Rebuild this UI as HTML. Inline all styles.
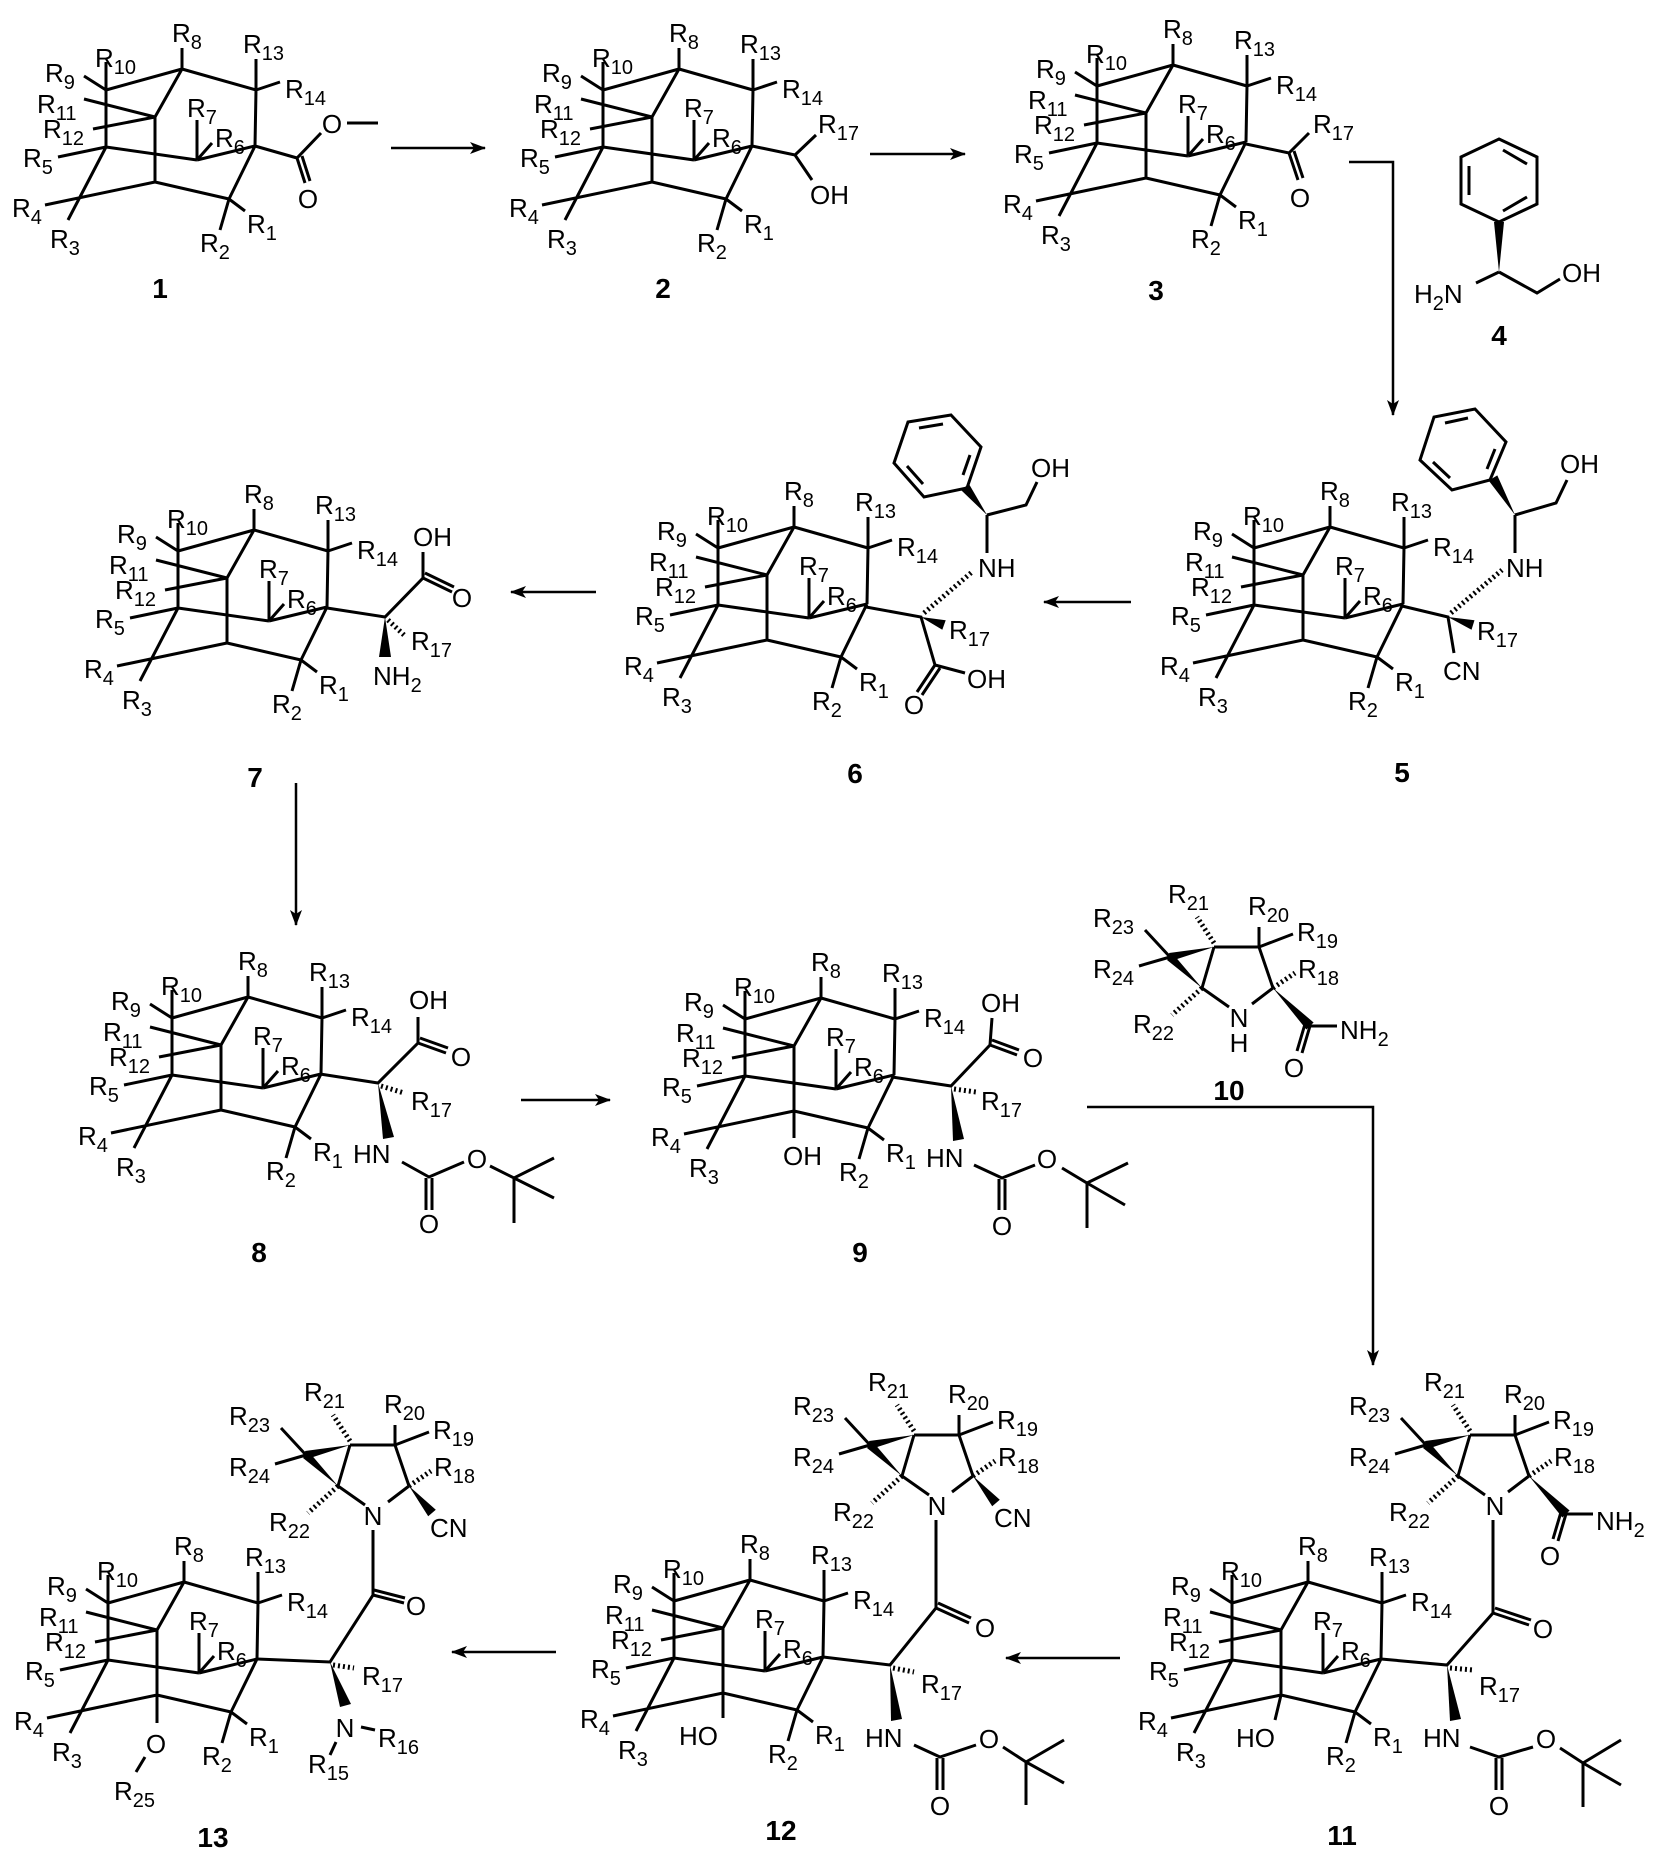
<!DOCTYPE html>
<html><head><meta charset="utf-8"><style>
html,body{margin:0;padding:0;background:#fff;}
svg{display:block;}
text{font-family:"Liberation Sans",Arial,sans-serif;font-size:26px;fill:#000;}
.s{font-size:20px;}
.b{font-weight:bold;font-size:28px;}
</style></head><body>
<svg width="1663" height="1857" viewBox="0 0 1663 1857" xmlns="http://www.w3.org/2000/svg">
<defs>
<marker id="ah" markerWidth="16" markerHeight="12" refX="15" refY="6" orient="auto" markerUnits="userSpaceOnUse"><path d="M0,0 L16,6 L0,12 L4,6 Z" fill="#000"/></marker>
<g id="cg" stroke="#000" stroke-width="3" fill="none">
<path d="M0,0V-21 M0,0L-76,21 M0,0L74,21 M0,0L-27,48 M-76,-7V78 M-98,7L-76,21 M74,-10V21 M74,21L98,13 M-98,30L-27,48 M-89,60L-27,48 M74,21L73,77 M-76,78L15,91 M15,91L73,77 M15,51V91 M15,91L30,74 M-27,48V113 M-27,113L47,130 M73,77L47,130L38,161 M47,130L63,142 M-27,113L-137,136 M-76,78L-114,151 M-76,78L-124,88"/>
</g>
<g id="bc">
<path d="M0,0H45 M0,0L-12,41 M-44,10L-69,-17 M-44,10L-75,19 M45,0V-20 M45,0L79,-13 M45,0L59,41 M-12,41L15,60 M59,41L38,57" stroke="#000" stroke-width="3" fill="none"/>
<polygon points="0,0 -43,14 -45,6" fill="#000"/>
<polygon points="-12,41 -41,7 -47,13" fill="#000"/>
<path d="M0,-4L-17,-30 M59,41L81,26 M-12,41L-42,68" stroke="#000" stroke-width="5" stroke-dasharray="2,3" fill="none"/>
</g>
</defs>

<use href="#cg" x="182" y="69"/>
<use href="#cg" x="679" y="69"/>
<use href="#cg" x="1173" y="65"/>
<use href="#cg" x="1330" y="527"/>
<use href="#cg" x="794" y="527"/>
<use href="#cg" x="254" y="530"/>
<use href="#cg" x="248" y="997"/>
<use href="#cg" x="821" y="998"/>
<use href="#cg" x="1308" y="1582"/>
<use href="#cg" x="750" y="1580"/>
<use href="#cg" x="184" y="1582"/>

<g transform="translate(182,69)">
<text x="-10" y="-27">R<tspan class="s" dy="7">8</tspan></text><text x="-87" y="-2">R<tspan class="s" dy="7">10</tspan></text><text x="-137" y="13">R<tspan class="s" dy="7">9</tspan></text><text x="61" y="-16">R<tspan class="s" dy="7">13</tspan></text><text x="103" y="29">R<tspan class="s" dy="7">14</tspan></text><text x="-145" y="44">R<tspan class="s" dy="7">11</tspan></text><text x="5" y="48">R<tspan class="s" dy="7">7</tspan></text><text x="33" y="78">R<tspan class="s" dy="7">6</tspan></text><text x="-139" y="69">R<tspan class="s" dy="7">12</tspan></text><text x="-159" y="98">R<tspan class="s" dy="7">5</tspan></text><text x="-170" y="148">R<tspan class="s" dy="7">4</tspan></text><text x="-132" y="179">R<tspan class="s" dy="7">3</tspan></text><text x="18" y="183">R<tspan class="s" dy="7">2</tspan></text><text x="65" y="164">R<tspan class="s" dy="7">1</tspan></text>
</g>
<g transform="translate(679,69)">
<text x="-10" y="-27">R<tspan class="s" dy="7">8</tspan></text><text x="-87" y="-2">R<tspan class="s" dy="7">10</tspan></text><text x="-137" y="13">R<tspan class="s" dy="7">9</tspan></text><text x="61" y="-16">R<tspan class="s" dy="7">13</tspan></text><text x="103" y="29">R<tspan class="s" dy="7">14</tspan></text><text x="-145" y="44">R<tspan class="s" dy="7">11</tspan></text><text x="5" y="48">R<tspan class="s" dy="7">7</tspan></text><text x="33" y="78">R<tspan class="s" dy="7">6</tspan></text><text x="-139" y="69">R<tspan class="s" dy="7">12</tspan></text><text x="-159" y="98">R<tspan class="s" dy="7">5</tspan></text><text x="-170" y="148">R<tspan class="s" dy="7">4</tspan></text><text x="-132" y="179">R<tspan class="s" dy="7">3</tspan></text><text x="18" y="183">R<tspan class="s" dy="7">2</tspan></text><text x="65" y="164">R<tspan class="s" dy="7">1</tspan></text>
</g>
<g transform="translate(1173,65)">
<text x="-10" y="-27">R<tspan class="s" dy="7">8</tspan></text><text x="-87" y="-2">R<tspan class="s" dy="7">10</tspan></text><text x="-137" y="13">R<tspan class="s" dy="7">9</tspan></text><text x="61" y="-16">R<tspan class="s" dy="7">13</tspan></text><text x="103" y="29">R<tspan class="s" dy="7">14</tspan></text><text x="-145" y="44">R<tspan class="s" dy="7">11</tspan></text><text x="5" y="48">R<tspan class="s" dy="7">7</tspan></text><text x="33" y="78">R<tspan class="s" dy="7">6</tspan></text><text x="-139" y="69">R<tspan class="s" dy="7">12</tspan></text><text x="-159" y="98">R<tspan class="s" dy="7">5</tspan></text><text x="-170" y="148">R<tspan class="s" dy="7">4</tspan></text><text x="-132" y="179">R<tspan class="s" dy="7">3</tspan></text><text x="18" y="183">R<tspan class="s" dy="7">2</tspan></text><text x="65" y="164">R<tspan class="s" dy="7">1</tspan></text>
</g>
<g transform="translate(1330,527)">
<text x="-10" y="-27">R<tspan class="s" dy="7">8</tspan></text><text x="-87" y="-2">R<tspan class="s" dy="7">10</tspan></text><text x="-137" y="13">R<tspan class="s" dy="7">9</tspan></text><text x="61" y="-16">R<tspan class="s" dy="7">13</tspan></text><text x="103" y="29">R<tspan class="s" dy="7">14</tspan></text><text x="-145" y="44">R<tspan class="s" dy="7">11</tspan></text><text x="5" y="48">R<tspan class="s" dy="7">7</tspan></text><text x="33" y="78">R<tspan class="s" dy="7">6</tspan></text><text x="-139" y="69">R<tspan class="s" dy="7">12</tspan></text><text x="-159" y="98">R<tspan class="s" dy="7">5</tspan></text><text x="-170" y="148">R<tspan class="s" dy="7">4</tspan></text><text x="-132" y="179">R<tspan class="s" dy="7">3</tspan></text><text x="18" y="183">R<tspan class="s" dy="7">2</tspan></text><text x="65" y="164">R<tspan class="s" dy="7">1</tspan></text>
</g>
<g transform="translate(794,527)">
<text x="-10" y="-27">R<tspan class="s" dy="7">8</tspan></text><text x="-87" y="-2">R<tspan class="s" dy="7">10</tspan></text><text x="-137" y="13">R<tspan class="s" dy="7">9</tspan></text><text x="61" y="-16">R<tspan class="s" dy="7">13</tspan></text><text x="103" y="29">R<tspan class="s" dy="7">14</tspan></text><text x="-145" y="44">R<tspan class="s" dy="7">11</tspan></text><text x="5" y="48">R<tspan class="s" dy="7">7</tspan></text><text x="33" y="78">R<tspan class="s" dy="7">6</tspan></text><text x="-139" y="69">R<tspan class="s" dy="7">12</tspan></text><text x="-159" y="98">R<tspan class="s" dy="7">5</tspan></text><text x="-170" y="148">R<tspan class="s" dy="7">4</tspan></text><text x="-132" y="179">R<tspan class="s" dy="7">3</tspan></text><text x="18" y="183">R<tspan class="s" dy="7">2</tspan></text><text x="65" y="164">R<tspan class="s" dy="7">1</tspan></text>
</g>
<g transform="translate(254,530)">
<text x="-10" y="-27">R<tspan class="s" dy="7">8</tspan></text><text x="-87" y="-2">R<tspan class="s" dy="7">10</tspan></text><text x="-137" y="13">R<tspan class="s" dy="7">9</tspan></text><text x="61" y="-16">R<tspan class="s" dy="7">13</tspan></text><text x="103" y="29">R<tspan class="s" dy="7">14</tspan></text><text x="-145" y="44">R<tspan class="s" dy="7">11</tspan></text><text x="5" y="48">R<tspan class="s" dy="7">7</tspan></text><text x="33" y="78">R<tspan class="s" dy="7">6</tspan></text><text x="-139" y="69">R<tspan class="s" dy="7">12</tspan></text><text x="-159" y="98">R<tspan class="s" dy="7">5</tspan></text><text x="-170" y="148">R<tspan class="s" dy="7">4</tspan></text><text x="-132" y="179">R<tspan class="s" dy="7">3</tspan></text><text x="18" y="183">R<tspan class="s" dy="7">2</tspan></text><text x="65" y="164">R<tspan class="s" dy="7">1</tspan></text>
</g>
<g transform="translate(248,997)">
<text x="-10" y="-27">R<tspan class="s" dy="7">8</tspan></text><text x="-87" y="-2">R<tspan class="s" dy="7">10</tspan></text><text x="-137" y="13">R<tspan class="s" dy="7">9</tspan></text><text x="61" y="-16">R<tspan class="s" dy="7">13</tspan></text><text x="103" y="29">R<tspan class="s" dy="7">14</tspan></text><text x="-145" y="44">R<tspan class="s" dy="7">11</tspan></text><text x="5" y="48">R<tspan class="s" dy="7">7</tspan></text><text x="33" y="78">R<tspan class="s" dy="7">6</tspan></text><text x="-139" y="69">R<tspan class="s" dy="7">12</tspan></text><text x="-159" y="98">R<tspan class="s" dy="7">5</tspan></text><text x="-170" y="148">R<tspan class="s" dy="7">4</tspan></text><text x="-132" y="179">R<tspan class="s" dy="7">3</tspan></text><text x="18" y="183">R<tspan class="s" dy="7">2</tspan></text><text x="65" y="164">R<tspan class="s" dy="7">1</tspan></text>
</g>
<g transform="translate(821,998)">
<text x="-10" y="-27">R<tspan class="s" dy="7">8</tspan></text><text x="-87" y="-2">R<tspan class="s" dy="7">10</tspan></text><text x="-137" y="13">R<tspan class="s" dy="7">9</tspan></text><text x="61" y="-16">R<tspan class="s" dy="7">13</tspan></text><text x="103" y="29">R<tspan class="s" dy="7">14</tspan></text><text x="-145" y="44">R<tspan class="s" dy="7">11</tspan></text><text x="5" y="48">R<tspan class="s" dy="7">7</tspan></text><text x="33" y="78">R<tspan class="s" dy="7">6</tspan></text><text x="-139" y="69">R<tspan class="s" dy="7">12</tspan></text><text x="-159" y="98">R<tspan class="s" dy="7">5</tspan></text><text x="-170" y="148">R<tspan class="s" dy="7">4</tspan></text><text x="-132" y="179">R<tspan class="s" dy="7">3</tspan></text><text x="18" y="183">R<tspan class="s" dy="7">2</tspan></text><text x="65" y="164">R<tspan class="s" dy="7">1</tspan></text>
</g>
<g transform="translate(1308,1582)">
<text x="-10" y="-27">R<tspan class="s" dy="7">8</tspan></text><text x="-87" y="-2">R<tspan class="s" dy="7">10</tspan></text><text x="-137" y="13">R<tspan class="s" dy="7">9</tspan></text><text x="61" y="-16">R<tspan class="s" dy="7">13</tspan></text><text x="103" y="29">R<tspan class="s" dy="7">14</tspan></text><text x="-145" y="44">R<tspan class="s" dy="7">11</tspan></text><text x="5" y="48">R<tspan class="s" dy="7">7</tspan></text><text x="33" y="78">R<tspan class="s" dy="7">6</tspan></text><text x="-139" y="69">R<tspan class="s" dy="7">12</tspan></text><text x="-159" y="98">R<tspan class="s" dy="7">5</tspan></text><text x="-170" y="148">R<tspan class="s" dy="7">4</tspan></text><text x="-132" y="179">R<tspan class="s" dy="7">3</tspan></text><text x="18" y="183">R<tspan class="s" dy="7">2</tspan></text><text x="65" y="164">R<tspan class="s" dy="7">1</tspan></text>
</g>
<g transform="translate(750,1580)">
<text x="-10" y="-27">R<tspan class="s" dy="7">8</tspan></text><text x="-87" y="-2">R<tspan class="s" dy="7">10</tspan></text><text x="-137" y="13">R<tspan class="s" dy="7">9</tspan></text><text x="61" y="-16">R<tspan class="s" dy="7">13</tspan></text><text x="103" y="29">R<tspan class="s" dy="7">14</tspan></text><text x="-145" y="44">R<tspan class="s" dy="7">11</tspan></text><text x="5" y="48">R<tspan class="s" dy="7">7</tspan></text><text x="33" y="78">R<tspan class="s" dy="7">6</tspan></text><text x="-139" y="69">R<tspan class="s" dy="7">12</tspan></text><text x="-159" y="98">R<tspan class="s" dy="7">5</tspan></text><text x="-170" y="148">R<tspan class="s" dy="7">4</tspan></text><text x="-132" y="179">R<tspan class="s" dy="7">3</tspan></text><text x="18" y="183">R<tspan class="s" dy="7">2</tspan></text><text x="65" y="164">R<tspan class="s" dy="7">1</tspan></text>
</g>
<g transform="translate(184,1582)">
<text x="-10" y="-27">R<tspan class="s" dy="7">8</tspan></text><text x="-87" y="-2">R<tspan class="s" dy="7">10</tspan></text><text x="-137" y="13">R<tspan class="s" dy="7">9</tspan></text><text x="61" y="-16">R<tspan class="s" dy="7">13</tspan></text><text x="103" y="29">R<tspan class="s" dy="7">14</tspan></text><text x="-145" y="44">R<tspan class="s" dy="7">11</tspan></text><text x="5" y="48">R<tspan class="s" dy="7">7</tspan></text><text x="33" y="78">R<tspan class="s" dy="7">6</tspan></text><text x="-139" y="69">R<tspan class="s" dy="7">12</tspan></text><text x="-159" y="98">R<tspan class="s" dy="7">5</tspan></text><text x="-170" y="148">R<tspan class="s" dy="7">4</tspan></text><text x="-132" y="179">R<tspan class="s" dy="7">3</tspan></text><text x="18" y="183">R<tspan class="s" dy="7">2</tspan></text><text x="65" y="164">R<tspan class="s" dy="7">1</tspan></text>
</g>

<use href="#bc" x="1214" y="947"/>
<use href="#bc" x="1470" y="1435"/>
<use href="#bc" x="914" y="1435"/>
<use href="#bc" x="350" y="1445"/>

<g transform="translate(1214,947)">
<text x="-121" y="-20">R<tspan class="s" dy="7">23</tspan></text><text x="-121" y="31">R<tspan class="s" dy="7">24</tspan></text><text x="-46" y="-44">R<tspan class="s" dy="7">21</tspan></text><text x="34" y="-32">R<tspan class="s" dy="7">20</tspan></text><text x="83" y="-6">R<tspan class="s" dy="7">19</tspan></text><text x="84" y="31">R<tspan class="s" dy="7">18</tspan></text><text x="-81" y="86">R<tspan class="s" dy="7">22</tspan></text>
<text x="25" y="80" text-anchor="middle">N</text><text x="25" y="105" text-anchor="middle">H</text>
<polygon points="59,41 92.4,82.5 99.6,75.5" fill="#000"/>
<path d="M96,79H123 M96,79L88,106 M91,77L83,104" stroke="#000" stroke-width="3" fill="none"/>
<text x="126" y="92">NH<tspan class="s" dy="7">2</tspan></text>
<text x="80" y="130" text-anchor="middle">O</text>
</g>
<g transform="translate(1470,1435)">
<text x="-121" y="-20">R<tspan class="s" dy="7">23</tspan></text><text x="-121" y="31">R<tspan class="s" dy="7">24</tspan></text><text x="-46" y="-44">R<tspan class="s" dy="7">21</tspan></text><text x="34" y="-32">R<tspan class="s" dy="7">20</tspan></text><text x="83" y="-6">R<tspan class="s" dy="7">19</tspan></text><text x="84" y="31">R<tspan class="s" dy="7">18</tspan></text><text x="-81" y="86">R<tspan class="s" dy="7">22</tspan></text>
<text x="25" y="80" text-anchor="middle">N</text>
<polygon points="59,41 92.4,82.5 99.6,75.5" fill="#000"/>
<path d="M96,79H123 M96,79L88,106 M91,77L83,104" stroke="#000" stroke-width="3" fill="none"/>
<text x="126" y="95">NH<tspan class="s" dy="7">2</tspan></text>
<text x="80" y="130" text-anchor="middle">O</text>
</g>
<g transform="translate(914,1435)">
<text x="-121" y="-20">R<tspan class="s" dy="7">23</tspan></text><text x="-121" y="31">R<tspan class="s" dy="7">24</tspan></text><text x="-46" y="-44">R<tspan class="s" dy="7">21</tspan></text><text x="34" y="-32">R<tspan class="s" dy="7">20</tspan></text><text x="83" y="-6">R<tspan class="s" dy="7">19</tspan></text><text x="84" y="31">R<tspan class="s" dy="7">18</tspan></text><text x="-81" y="86">R<tspan class="s" dy="7">22</tspan></text>
<text x="23" y="80" text-anchor="middle">N</text>
<polygon points="59,41 78.2,71.2 85.8,64.8" fill="#000"/>
<text x="80" y="92">CN</text>
</g>
<g transform="translate(350,1445)">
<text x="-121" y="-20">R<tspan class="s" dy="7">23</tspan></text><text x="-121" y="31">R<tspan class="s" dy="7">24</tspan></text><text x="-46" y="-44">R<tspan class="s" dy="7">21</tspan></text><text x="34" y="-32">R<tspan class="s" dy="7">20</tspan></text><text x="83" y="-6">R<tspan class="s" dy="7">19</tspan></text><text x="84" y="31">R<tspan class="s" dy="7">18</tspan></text><text x="-81" y="86">R<tspan class="s" dy="7">22</tspan></text>
<text x="23" y="80" text-anchor="middle">N</text>
<polygon points="59,41 78.2,71.2 85.8,64.8" fill="#000"/>
<text x="80" y="92">CN</text>
</g>

<g stroke="#000" stroke-width="3" fill="none">
<path d="M255,146L297,158L321,133 M297,158L305,183 M302,156L310,181 M347,123H378"/>
<path d="M752,146L795,155L816,135 M795,155L812,180"/>
<path d="M1246,144L1289,153L1309,133 M1289,153L1298,180 M1294,151L1303,178"/>
<path d="M1499,139L1537,157V204L1499,222L1461,204V157Z M1503,150L1527,164 M1527,197L1503,211 M1469,166V195 M1499,272L1476,283 M1499,272L1537,293L1560,279"/>
<path d="M1402,606L1448,617L1454,653 M1515,553V515 M1515,515L1556,503L1567,480 M1475,409L1506,442L1490,480L1452,490L1420,460L1434,417Z M1445,423L1468,418 M1495,449L1487,469 M1450,478L1433,462"/>
<path d="M866,607L921,617L935,665L965,673 M935,665L917,692 M940,668L922,695 M987,553V515 M987,515L1026,505L1037,482 M951,415L981,447L967,488L924,497L894,463L908,422Z M919,428L943,424 M970,455L963,475 M923,484L907,466"/>
<path d="M327,608L385,617L423,578V552 M423,578L452,592 M425,573L454,587"/>
<path d="M320,1074L378,1083L418,1043V1017 M418,1043L446,1053 M420,1038L448,1048 M402,1162L429,1177L464,1162 M490,1166L514,1178L554,1158 M514,1178L554,1198 M514,1178V1223 M426,1178V1210 M432,1178V1210"/>
<path d="M794,1110V1138 M892,1077L951,1086L990,1045L992,1018 M990,1045L1017,1055 M992,1040L1019,1050 M974,1165L1002,1178L1035,1165 M1062,1168L1087,1183L1128,1163 M1087,1183L1125,1205 M1087,1183V1228 M999,1179V1210 M1005,1179V1210"/>
<path d="M1281,1695L1275,1720 M1381,1659L1447,1665L1493,1613V1520 M1493,1613L1529,1625 M1495,1608L1531,1620 M1470,1747L1499,1757L1533,1747 M1560,1748L1583,1763L1621,1740 M1583,1763L1621,1785 M1583,1763V1807 M1496,1758V1790 M1502,1758V1790"/>
<path d="M723,1693V1718 M823,1657L890,1665L936,1608V1520 M936,1608L969,1623 M938,1603L971,1618 M914,1745L940,1757L976,1745 M1003,1747L1026,1762L1064,1740 M1026,1762L1064,1783 M1026,1762V1805 M937,1758V1790 M943,1758V1790"/>
<path d="M157,1695V1723 M145,1757L136,1772 M257,1659L330,1662L373,1595V1530 M373,1595L404,1603 M374,1590L405,1598 M361,1727L375,1730 M336,1742L330,1755"/>
</g>
<g stroke="#000" stroke-width="5" stroke-dasharray="2,3" fill="none">
<path d="M1451,613L1502,570 M924,613L972,572 M388,620L404,635 M381,1086L404,1093 M954,1089L976,1092 M1450,1668L1473,1670 M893,1668L914,1672 M333,1665L354,1668"/>
</g>
<g fill="#000">
<polygon points="1448,617 1474.5,620.2 1471.5,629.8"/>
<polygon points="1515,515 1497.3,475.4 1488.7,480.6"/>
<polygon points="921,617 945.7,620.3 942.3,629.7"/>
<polygon points="987,515 968.9,483.9 961.1,490.1"/>
<polygon points="1499,222 1494,222 1499,272 1504,222"/>
<polygon points="385,617 379,657 391,657"/>
<polygon points="378,1083 383,1139 394,1137"/>
<polygon points="951,1086 953,1141 964,1139"/>
<polygon points="1447,1665 1450,1721 1461,1719"/>
<polygon points="890,1665 891,1721 902,1719"/>
<polygon points="330,1662 340,1707 351,1704"/>
</g>

<text x="332" y="133" text-anchor="middle">O</text>
<text x="308" y="208" text-anchor="middle">O</text>
<text x="818" y="133">R<tspan class="s" dy="7">17</tspan></text>
<text x="810" y="204">OH</text>
<text x="1313" y="133">R<tspan class="s" dy="7">17</tspan></text>
<text x="1300" y="207" text-anchor="middle">O</text>
<text x="1414" y="303">H<tspan class="s" dy="7">2</tspan><tspan dy="-7">N</tspan></text>
<text x="1562" y="282">OH</text>
<text x="1443" y="680">CN</text>
<text x="1477" y="640">R<tspan class="s" dy="7">17</tspan></text>
<text x="1506" y="577">NH</text>
<text x="1560" y="473">OH</text>
<text x="949" y="639">R<tspan class="s" dy="7">17</tspan></text>
<text x="978" y="577">NH</text>
<text x="1031" y="477">OH</text>
<text x="967" y="688">OH</text>
<text x="914" y="714" text-anchor="middle">O</text>
<text x="413" y="546">OH</text>
<text x="462" y="607" text-anchor="middle">O</text>
<text x="411" y="650">R<tspan class="s" dy="7">17</tspan></text>
<text x="373" y="685">NH<tspan class="s" dy="7">2</tspan></text>
<text x="409" y="1009">OH</text>
<text x="461" y="1066" text-anchor="middle">O</text>
<text x="411" y="1110">R<tspan class="s" dy="7">17</tspan></text>
<text x="353" y="1163">HN</text>
<text x="477" y="1168" text-anchor="middle">O</text>
<text x="429" y="1233" text-anchor="middle">O</text>
<text x="783" y="1165">OH</text>
<text x="981" y="1012">OH</text>
<text x="1033" y="1067" text-anchor="middle">O</text>
<text x="981" y="1110">R<tspan class="s" dy="7">17</tspan></text>
<text x="926" y="1167">HN</text>
<text x="1047" y="1168" text-anchor="middle">O</text>
<text x="1002" y="1235" text-anchor="middle">O</text>
<text x="1236" y="1747">HO</text>
<text x="1543" y="1638" text-anchor="middle">O</text>
<text x="1479" y="1695">R<tspan class="s" dy="7">17</tspan></text>
<text x="1423" y="1747">HN</text>
<text x="1546" y="1748" text-anchor="middle">O</text>
<text x="1499" y="1815" text-anchor="middle">O</text>
<text x="679" y="1745">HO</text>
<text x="985" y="1637" text-anchor="middle">O</text>
<text x="921" y="1693">R<tspan class="s" dy="7">17</tspan></text>
<text x="865" y="1747">HN</text>
<text x="989" y="1748" text-anchor="middle">O</text>
<text x="940" y="1815" text-anchor="middle">O</text>
<text x="156" y="1753" text-anchor="middle">O</text>
<text x="114" y="1800">R<tspan class="s" dy="7">25</tspan></text>
<text x="416" y="1615" text-anchor="middle">O</text>
<text x="362" y="1685">R<tspan class="s" dy="7">17</tspan></text>
<text x="345" y="1737" text-anchor="middle">N</text>
<text x="378" y="1747">R<tspan class="s" dy="7">16</tspan></text>
<text x="308" y="1773">R<tspan class="s" dy="7">15</tspan></text>

<text class="b" x="160" y="298" text-anchor="middle">1</text>
<text class="b" x="663" y="298" text-anchor="middle">2</text>
<text class="b" x="1156" y="300" text-anchor="middle">3</text>
<text class="b" x="1499" y="345" text-anchor="middle">4</text>
<text class="b" x="1402" y="782" text-anchor="middle">5</text>
<text class="b" x="855" y="783" text-anchor="middle">6</text>
<text class="b" x="255" y="787" text-anchor="middle">7</text>
<text class="b" x="259" y="1262" text-anchor="middle">8</text>
<text class="b" x="860" y="1262" text-anchor="middle">9</text>
<text class="b" x="1229" y="1100" text-anchor="middle">10</text>
<text class="b" x="1342" y="1845" text-anchor="middle">11</text>
<text class="b" x="781" y="1840" text-anchor="middle">12</text>
<text class="b" x="213" y="1847" text-anchor="middle">13</text>

<g stroke="#000" stroke-width="2.5" fill="none" marker-end="url(#ah)">
<path d="M391,148H485"/>
<path d="M870,154H965"/>
<path d="M1349,162H1393V415"/>
<path d="M1131,602H1044"/>
<path d="M596,592H511"/>
<path d="M296,783V925"/>
<path d="M521,1100H610"/>
<path d="M1087,1107H1373V1365"/>
<path d="M1120,1658H1006"/>
<path d="M556,1652H452"/>
</g>
</svg>
</body></html>
